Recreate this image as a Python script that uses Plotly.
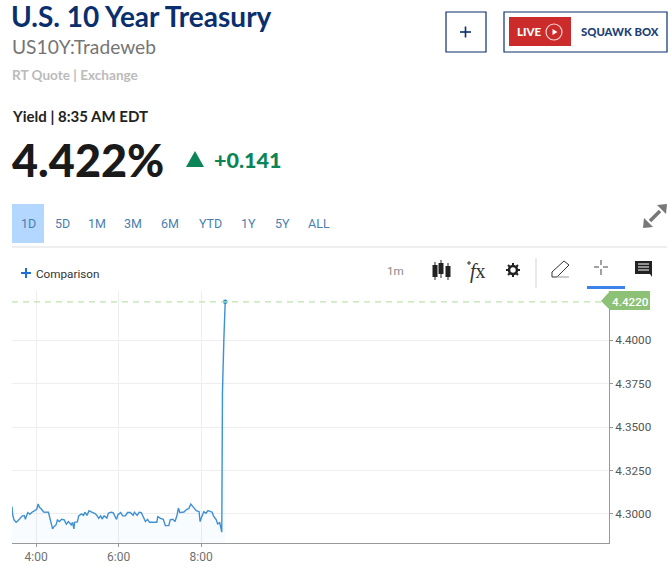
import math

import plotly.graph_objects as go

W = 670
H = 579

# minutes after midnight
minutes = [
    205, 206, 208, 211, 214, 217, 220, 223, 224.5, 226, 228, 231, 234, 238, 241, 243, 245, 248, 251, 258,
    260, 262, 264, 266, 269, 271, 274, 277, 281, 284, 287, 288.5, 291, 293, 295, 296, 300, 302, 306, 309,
    311, 314, 317, 321, 325, 328, 331, 334, 336, 339, 343, 345, 349, 352, 355, 357, 359, 363, 366, 370,
    373, 377, 381, 383, 387, 390, 393, 396, 399, 402, 405, 415.5, 417, 421, 425, 428, 433, 435, 439, 442,
    445, 447, 449, 455, 459, 462, 465, 468, 473, 477, 478.5, 481, 484, 487, 490, 496, 498, 502, 504, 507,
    510, 511, 512, 513, 515,
]
yields = [
    4.3042, 4.2994, 4.2966, 4.2952, 4.2962, 4.2979, 4.2989, 4.2990, 4.2969, 4.2989, 4.3008, 4.2998, 4.3010, 4.3019, 4.3027, 4.3057, 4.3038, 4.3027, 4.3011, 4.3010,
    4.2975, 4.2937, 4.2914, 4.2927, 4.2937, 4.2966, 4.2956, 4.2969, 4.2966, 4.2941, 4.2956, 4.2950, 4.2937, 4.2952, 4.2914, 4.2952, 4.2954, 4.2989, 4.3000, 4.2992,
    4.3010, 4.2992, 4.3019, 4.3011, 4.3004, 4.2994, 4.2975, 4.2989, 4.2971, 4.2989, 4.2977, 4.3004, 4.3010, 4.3008, 4.2989, 4.2969, 4.2996, 4.3008, 4.2989, 4.2990,
    4.3008, 4.3008, 4.2992, 4.3010, 4.2992, 4.3010, 4.3008, 4.2981, 4.2956, 4.2969, 4.2952, 4.2952, 4.2985, 4.2975, 4.2969, 4.2933, 4.2933, 4.2966, 4.2969, 4.2956,
    4.2994, 4.3034, 4.3008, 4.3011, 4.3027, 4.3031, 4.3057, 4.3042, 4.3019, 4.3013, 4.2956, 4.2985, 4.3013, 4.3004, 4.3019, 4.3010, 4.2989, 4.2966, 4.2943, 4.2950,
    4.2895, 4.37, 4.39, 4.40, 4.422,
]
x_ticks = [240, 360, 480]
x_labels = ["4:00", "6:00", "8:00"]
y_ticks = [4.30, 4.325, 4.35, 4.375, 4.40]
y_labels = ["4.3000", "4.3250", "4.3500", "4.3750", "4.4000"]
range_tabs = ["1D", "5D", "1M", "3M", "6M", "YTD", "1Y", "5Y", "ALL"]
tab_centers = [28, 62, 97, 133, 170, 210, 248, 282, 319]

NAVY = "#0a2f6e"
GREEN = "#0b8457"
TAG_GREEN = "#8cc176"
LINE_BLUE = "#3f90d3"


def px(x):
    return x / W


def py(y):
    return 1 - y / H


def path(points, close=True):
    # page pixels -> svg path in paper coords
    d = "M" + " L".join(f"{px(x):.5f},{py(y):.5f}" for x, y in points)
    return d + (" Z" if close else "")


fig = go.Figure()
fig.add_trace(
    go.Scatter(
        x=minutes,
        y=yields,
        mode="lines",
        line=dict(color=LINE_BLUE, width=1.4),
        fill="tozeroy",
        fillcolor="rgba(90,160,225,0.035)",
        hoverinfo="skip",
    )
)
fig.add_trace(
    go.Scatter(
        x=minutes[-1:],
        y=yields[-1:],
        mode="markers",
        marker=dict(color="#1e8fd5", size=4.5),
        hoverinfo="skip",
    )
)

fig.update_layout(
    width=W,
    height=H,
    margin=dict(l=0, r=0, t=0, b=0),
    paper_bgcolor="white",
    plot_bgcolor="white",
    showlegend=False,
    font=dict(family="Roboto", size=12, color="#666666"),
    xaxis=dict(
        domain=[px(12), px(609)],
        range=[205, 1073],
        tickvals=x_ticks,
        ticktext=x_labels,
        ticks="outside",
        ticklen=3,
        tickcolor="#999999",
        showgrid=True,
        gridcolor="#eeeeee",
        showline=True,
        linecolor="#999999",
        zeroline=False,
        tickfont=dict(family="Roboto", size=12, color="#707070"),
    ),
    yaxis=dict(
        domain=[py(543), py(291)],
        range=[4.2833, 4.4282],
        side="right",
        tickvals=y_ticks,
        ticktext=y_labels,
        ticks="outside",
        ticklen=3,
        tickcolor="#999999",
        showgrid=True,
        gridcolor="#eeeeee",
        showline=True,
        linecolor="#999999",
        zeroline=False,
        tickfont=dict(family="Roboto", size=11.7, color="#555555"),
    ),
)


def label(x, y, text, size, color, family="Lato", anchor="left", weight="normal"):
    fig.add_annotation(
        x=px(x), y=py(y), xref="paper", yref="paper", text=text, showarrow=False,
        xanchor=anchor, yanchor="middle", borderpad=0, borderwidth=0,
        font=dict(family=family, size=size, color=color, weight=weight),
    )


def rect(x0, y0, x1, y1, fill=None, line=None, width=1):
    fig.add_shape(
        type="rect", xref="paper", yref="paper",
        x0=px(x0), y0=py(y0), x1=px(x1), y1=py(y1),
        fillcolor=fill if fill else "rgba(0,0,0,0)",
        line=dict(color=line if line else "rgba(0,0,0,0)", width=width if line else 0),
    )


def stroke(points, color, width=1, fill=None, close=False):
    fig.add_shape(
        type="path", xref="paper", yref="paper", path=path(points, close),
        fillcolor=fill if fill else "rgba(0,0,0,0)",
        line=dict(color=color, width=width),
    )


# header
label(11, 15.5, "U.S. 10 Year Treasury", 28, NAVY, weight=700)
label(11.5, 47, "US10Y:Tradeweb", 19.2, "#757575")
label(11.5, 75, "RT Quote | Exchange", 13.6, "#bbbbbb", weight=700)
label(11.5, 116, "Yield | 8:35 AM EDT", 15, "#222222", weight=700)
label(11.5, 160, "4.422%", 45, "#1a1a1a", weight=900)
stroke([(186, 167), (195, 151), (204, 167)], GREEN, 0, fill=GREEN, close=True)
label(213.5, 160, "+0.141", 21.5, GREEN, weight=900)

# buttons top right
rect(446, 12, 486, 52, line=NAVY, width=1.2)
stroke([(460, 32), (471, 32)], NAVY, 1.6)
stroke([(465.5, 26.5), (465.5, 37.5)], NAVY, 1.6)
rect(504, 12, 667, 52, line=NAVY, width=1.2)
rect(509, 17, 571, 46, fill="#cc2b2b")
label(517, 31.5, "LIVE", 11.5, "white", weight=900)
fig.add_shape(
    type="circle", xref="paper", yref="paper",
    x0=px(546), y0=py(40), x1=px(562), y1=py(24),
    line=dict(color="#f3d6d6", width=1.2),
)
stroke([(552.5, 29), (552.5, 35), (557.5, 32)], "white", 0, fill="white", close=True)
label(581, 31, "SQUAWK BOX", 11.3, "#1e3f76", weight=900)

# range tabs
rect(12, 204, 44, 243, fill="#b3d7ff")
for tab, cx in zip(range_tabs, tab_centers):
    label(cx, 224, tab, 12.5, "#4a7fb0", family="Roboto", anchor="center")
stroke([(12, 247), (667, 247)], "#dddddd", 1)

# expand icon
stroke([(650, 221), (660, 211)], "#777777", 3.5)
stroke([(667, 204), (657, 205), (666, 214)], "#777777", 0, fill="#777777", close=True)
stroke([(643, 228), (653, 227), (644, 218)], "#777777", 0, fill="#777777", close=True)

# chart toolbar
stroke([(21, 273), (31, 273)], "#1f6fd0", 2)
stroke([(26, 268), (26, 278)], "#1f6fd0", 2)
label(36, 273.5, "Comparison", 11.7, "#333333", family="Roboto")
label(386.5, 271, "1m", 11.7, "#888888", family="Roboto")
for cx, y0, y1, wy0, wy1 in [(435, 265, 277, 262, 280), (441, 263, 274, 260, 278), (448, 266, 277, 263, 280)]:
    stroke([(cx, wy0), (cx, wy1)], "#222222", 1)
    rect(cx - 2.5, y0, cx + 2.5, y1, fill="#222222")

# fx icon
label(470, 271, "<i>f</i>x", 20, "#333333", family="Liberation Serif")
stroke([(467, 263), (471, 263)], "#333333", 1)
stroke([(469, 261), (469, 265)], "#333333", 1)

# gear icon
gear_x, gear_y = 513, 270
fig.add_shape(
    type="circle", xref="paper", yref="paper",
    x0=px(gear_x - 4), y0=py(gear_y + 4), x1=px(gear_x + 4), y1=py(gear_y - 4),
    line=dict(color="#222222", width=2.6),
)
for i in range(8):
    a = i * math.pi / 4
    stroke(
        [(gear_x + 4 * math.cos(a), gear_y + 4 * math.sin(a)), (gear_x + 7 * math.cos(a), gear_y + 7 * math.sin(a))],
        "#222222",
        2,
    )

stroke([(536, 258), (536, 288)], "#e2e2e2", 1.5)
stroke([(552, 277), (552, 272), (564, 261), (569, 265), (557, 277), (552, 277)], "#333333", 1)
stroke([(557, 277), (569, 277)], "#999999", 1)
stroke([(594, 267), (599, 267)], "#444444", 1)
stroke([(603, 267), (608, 267)], "#444444", 1)
stroke([(601, 260), (601, 265)], "#444444", 1)
stroke([(601, 269), (601, 275)], "#444444", 1)
rect(587, 286, 625, 289, fill="#3b82ea")
stroke([(635, 261), (652, 261), (652, 277), (650, 274), (635, 274)], "#222222", 0, fill="#222222", close=True)
for ly in [264, 267, 270]:
    stroke([(638, ly), (649, ly)], "white", 1)

# last price line and tag
fig.add_shape(
    type="line", xref="paper", yref="y",
    x0=px(12), x1=px(601), y0=yields[-1], y1=yields[-1],
    line=dict(color="#bde3ae", width=1.2, dash="6px,5px"),
)
stroke([(601, 301), (610, 291), (650, 291), (650, 310), (610, 310)], TAG_GREEN, 0, fill=TAG_GREEN, close=True)
fig.add_annotation(
    x=px(630), y=yields[-1], xref="paper", yref="y", text="4.4220", showarrow=False,
    xanchor="center", yanchor="middle", font=dict(family="Roboto", size=11.7, color="white", weight=500),
)

fig.write_html(
    "out.html",
    config={"displayModeBar": False},
    post_script="document.body.style.margin='0';document.body.style.overflow='hidden';",
)
